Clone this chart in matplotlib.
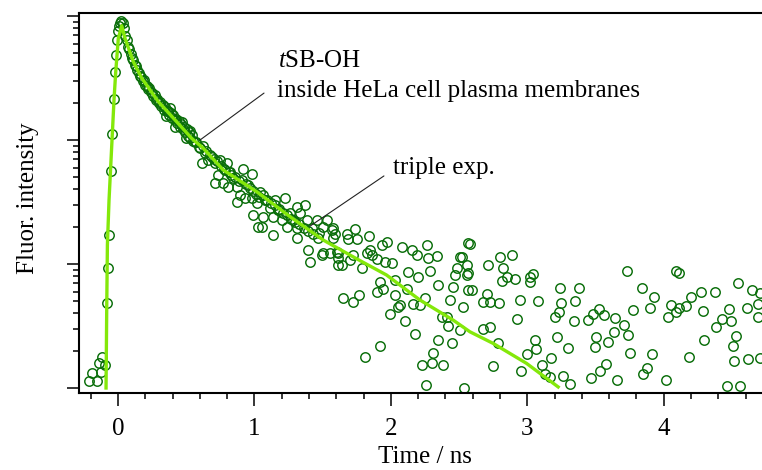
import matplotlib
matplotlib.use('Agg')
from matplotlib import pyplot as plt
from matplotlib.ticker import MultipleLocator, LogLocator, NullFormatter, FixedLocator

plt.rcParams['font.family'] = ['Liberation Serif', 'DejaVu Serif']
plt.rcParams['mathtext.fontset'] = 'custom'
plt.rcParams['mathtext.rm'] = 'Liberation Serif'
plt.rcParams['mathtext.it'] = 'Liberation Serif:italic'

# measured decay (time in ns, intensity in counts)
t_data = [
    -0.212, -0.188, -0.152, -0.139, -0.127, -0.120, -0.095,
    -0.082, -0.076, -0.064, -0.054, -0.044, -0.032, -0.024, -0.017, -0.010, -0.003,
    0.005, 0.015, 0.024, 0.034, 0.044, 0.053, 0.063, 0.073, 0.083, 0.092,
    0.102, 0.112, 0.122, 0.132, 0.141, 0.151, 0.161, 0.171, 0.180, 0.190,
    0.200, 0.210, 0.219, 0.229, 0.239, 0.249, 0.258, 0.268, 0.278, 0.288,
    0.297, 0.307, 0.317, 0.327, 0.336, 0.346, 0.356, 0.366, 0.375, 0.385,
    0.395, 0.405, 0.414, 0.424, 0.434, 0.444, 0.453, 0.463, 0.473, 0.483,
    0.492, 0.502, 0.512, 0.522, 0.531, 0.541, 0.551,
    0.350, 0.420, 0.470, 0.380, 0.500, 0.530,
    0.575, 0.590, 0.620, 0.645, 0.675, 0.700, 0.725, 0.755, 0.780, 0.810,
    0.830, 0.860, 0.885, 0.910, 0.940, 0.965, 0.990, 1.010, 1.035, 1.060,
    1.090, 1.120, 1.150, 1.180, 1.210, 1.240, 1.270, 1.300, 1.330, 1.360,
    1.390, 1.430, 1.470,
    0.564, 0.601, 0.637, 0.662, 0.686, 0.711, 0.613, 0.747, 0.796, 0.784,
    0.821, 0.735, 0.711, 0.771, 0.845, 0.808, 0.870, 0.918, 0.979, 0.955,
    0.894, 0.930, 0.870, 0.979, 1.040, 1.016, 1.077, 1.150, 1.114, 1.223,
    1.174, 1.138, 1.064, 0.991, 1.199, 1.028, 1.053, 1.138, 1.260, 1.309,
    1.370, 1.333, 1.284, 1.236, 1.309, 1.382, 1.419, 1.456, 1.504, 1.566,
    1.577, 1.467, 1.309, 1.394, 1.407, 1.492, 1.602, 1.614, 1.614,
    1.529, 1.577, 1.590, 1.675, 1.736, 1.749, 1.687, 1.841, 1.504, 1.553,
    1.614, 1.639, 1.700, 1.724, 1.785, 1.822, 1.846, 1.859, 1.895, 1.932,
    1.968, 1.956, 2.005, 2.078, 2.152, 2.188, 2.262, 2.273, 2.335, 2.286,
    2.127, 2.200, 2.029, 1.919, 1.944, 1.895, 2.115, 2.029, 2.066, 2.054,
    2.164, 2.249, 2.212, 1.993, 2.103, 2.176, 2.347, 2.347, 2.445, 2.505,
    2.566, 2.481, 2.469, 2.555, 2.457, 2.432, 2.530, 2.371, 2.408, 2.420,
    2.505, 2.566, 1.646, 1.724, 1.768, 1.919, 1.810, 2.310, 2.298, 2.225,
    2.383, 2.256, 2.535,
    2.579, 2.518, 2.555, 2.566, 2.713, 2.799, 2.891, 2.823, 2.848, 2.811,
    2.908, 3.018, 3.043, 3.023, 2.598, 2.701, 2.676, 2.725, 2.793, 2.945,
    3.079, 3.238, 3.380, 3.250, 3.348, 3.233, 3.201, 3.341, 3.446, 3.482,
    3.526, 3.560, 2.925, 2.672, 2.730, 2.786, 3.055, 3.067, 3.218, 3.299,
    3.502, 3.495, 3.592, 2.994, 3.177, 3.104, 3.128, 3.165, 2.957, 2.745,
    3.258, 3.311, 3.470, 3.531, 3.580,
    3.727, 3.837, 3.927, 3.775, 3.897, 3.641, 3.707, 3.634, 3.739, 3.756,
    3.917, 3.878, 3.848, 3.658, 4.020, 4.088, 4.112, 4.056, 4.032, 4.088,
    4.112, 4.166, 4.203, 4.276, 4.374, 4.288, 4.386, 4.430, 4.496, 4.478,
    4.295, 4.527, 4.508, 4.515, 4.183, 4.618, 4.610, 4.544, 4.650, 4.708,
    4.691, 4.691, 4.467, 4.557, 4.708,
]
y_data = [
    1.14, 1.33, 1.14, 1.59, 1.35, 1.79, 1.53,
    4.87, 9.3, 17, 56.5, 111, 216, 355, 481, 640, 760,
    830, 880, 905, 870, 800, 690, 640, 560, 540, 490,
    455, 440, 400, 395, 365, 350, 330, 322, 300, 305,
    280, 275, 258, 262, 244, 238, 226, 232, 210, 214,
    198, 202, 188, 192, 176, 184, 170, 172, 160, 166,
    150, 158, 145, 148, 136, 142, 128, 134, 122, 128,
    115, 122, 108, 116, 104, 110, 98,
    155, 128, 140, 182, 104, 118,
    96, 88, 90, 82, 75, 70, 68, 62, 58, 55,
    52, 50, 47, 48, 44, 41, 39, 37, 35, 36,
    33, 31, 30, 28, 26, 25, 23, 22, 21, 19.5,
    18.5, 17.5, 17.8,
    97, 86, 78.1, 69, 73.4, 64.9, 64.9, 69, 64.9, 57,
    55.4, 52.3, 44.7, 44.7, 49.1, 42, 42, 58.3, 53.3, 43.2,
    36, 33.8, 31.7, 33.8, 38.2, 30.8, 32.8, 32.8, 28.1, 33.8,
    27.3, 24, 24, 24.8, 22.6, 19.8, 19.8, 17.1, 25.6, 28.9,
    29.9, 25.6, 22.6, 20, 19.4, 22.6, 19.4, 22.6, 20, 18.8,
    16.1, 16.1, 16.1, 13, 10.4, 11.8, 12.6, 9.8, 11.1,
    22.6, 19.4, 17.6, 17.6, 19.1, 15.8, 15.8, 16.8, 12.2, 12.2,
    12.2, 9.8, 10.8, 11.8, 9.2, 12.2, 13.0, 11.8, 10.9, 14.2,
    15.1, 10.4, 10.1, 13.8, 13.0, 11.8, 14.2, 11.1, 11.6, 8.8,
    8.6, 7.9, 7.43, 7.2, 6.3, 6.0, 6.3, 5.6, 4.67, 4.5,
    4.8, 5.3, 4.67, 3.95, 3.49, 2.72, 6.77, 2.44, 2.32, 11.4,
    14.7, 9.2, 8.15, 8.15, 6.55, 5.13, 4.5, 3.76, 3.76, 3.16,
    2.94, 6.17, 5.3, 4.98, 5.6, 2.18, 1.79, 1.93, 1.58, 1.53,
    1.53, 1.06, 1.0,
    14.4, 11.4, 9.8, 8.4, 9.8, 11.4, 11.8, 9.2, 7.9, 7.3,
    7.5, 7.8, 8.3, 7.1, 6.17, 5.7, 4.98, 4.98, 4.87, 5.13,
    5.0, 6.45, 6.45, 4.87, 5.0, 4.12, 3.72, 3.49, 3.53, 3.95,
    4.31, 3.88, 3.57, 2.97, 3.12, 2.29, 2.44, 2.06, 2.56, 2.09,
    2.56, 2.13, 2.36, 1.87, 1.73, 1.53, 1.30, 1.23, 1.37, 1.50,
    1.25, 1.07, 1.21, 1.36, 1.56,
    8.8, 6.4, 5.4, 4.26, 4.39, 3.64, 3.22, 2.84, 2.68, 1.93,
    1.87, 1.46, 1.30, 1.17, 1.17, 8.8, 8.4, 4.67, 3.76, 4.12,
    4.43, 4.58, 5.4, 6.0, 5.9, 4.17, 3.08, 3.57, 3.49, 4.34,
    2.44, 2.62, 2.18, 1.65, 1.79, 1.70, 4.39, 6.97, 6.17, 5.8,
    4.75, 3.76, 1.04, 1.04, 1.73,
]

# triple exponential fit
t_fit = [-0.088, -0.083, -0.078, -0.066, -0.046, -0.029, -0.017, 0.002, 0.027,
         0.051, 0.112, 0.174, 0.295, 0.418, 0.540, 0.625, 0.771, 1.016, 1.260,
         1.504, 1.750, 1.968, 2.212, 2.456, 2.579, 2.749, 2.994, 3.226]
y_fit = [1.0, 4.3, 14.2, 32.8, 91, 216, 354, 660, 835,
         661, 428, 315, 204, 145, 103, 85.7, 57.3, 38.3, 24.1,
         15.6, 11.0, 8.15, 5.13, 3.53, 2.84, 2.29, 1.58, 1.02]

x_ticks = [0, 1, 2, 3, 4]

fig = plt.figure(figsize=(7.62, 4.70), dpi=100)
ax = fig.add_axes([0.1037, 0.1638, 0.8963, 0.8096])

ax.plot(t_data, y_data, 'o', ms=6.8, mfc='none', mec='#0a6e0a', mew=1.05, zorder=2)
ax.plot(t_fit, y_fit, '-', color='#84e80a', lw=2.4, zorder=3)

ax.set_yscale('log')
ax.set_xlim(-0.286, 4.72)
ax.set_ylim(0.911, 1067)

ax.xaxis.set_major_locator(FixedLocator(x_ticks))
ax.xaxis.set_minor_locator(MultipleLocator(0.2))
ax.yaxis.set_major_locator(LogLocator(base=10))
ax.yaxis.set_minor_locator(LogLocator(base=10, subs=range(2, 10)))
ax.yaxis.set_major_formatter(NullFormatter())
ax.yaxis.set_minor_formatter(NullFormatter())

ax.tick_params(which='both', direction='out', width=1.1, colors='black',
               top=False, right=False)
ax.tick_params(which='major', length=9)
ax.tick_params(which='minor', length=4.5)
ax.tick_params(axis='x', labelsize=18, pad=9)

for side in ['left', 'bottom', 'top']:
    ax.spines[side].set_linewidth(1.5)
ax.spines['right'].set_visible(False)

ax.set_xlabel('Time / ns', fontsize=18)
ax.xaxis.set_label_coords(0.5066, -0.168)
ax.xaxis.label.set_va('center')
ax.set_ylabel('Fluor. intensity', fontsize=18)
ax.yaxis.set_label_coords(-0.0747, 0.512)
ax.yaxis.label.set_va('center')

ax.annotate('', xy=(0.601, 100), xytext=(1.07, 239),
            arrowprops=dict(arrowstyle='-', lw=0.8, color='#222222', shrinkA=0, shrinkB=0))
ax.annotate('', xy=(1.407, 20.2), xytext=(1.949, 51.3),
            arrowprops=dict(arrowstyle='-', lw=0.8, color='#222222', shrinkA=0, shrinkB=0))
ax.text(1.172, 388, r'$\mathit{t}$SB-OH', fontsize=18, va='baseline')
ax.text(1.165, 224, 'inside HeLa cell plasma membranes', fontsize=18, va='baseline')
ax.text(2.015, 53.2, 'triple exp.', fontsize=18, va='baseline')

fig.savefig('out.png', dpi=100)
